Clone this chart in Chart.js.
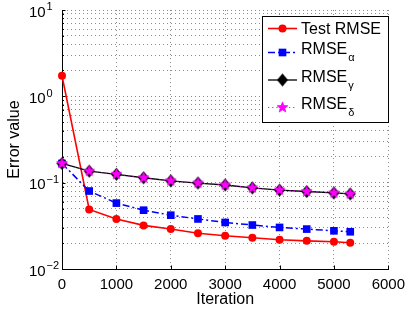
<!DOCTYPE html>
<html>
<head>
<meta charset="utf-8">
<script src="https://cdn.jsdelivr.net/npm/chart.js@4/dist/chart.umd.min.js"></script>
<style>
html,body{margin:0;padding:0;background:#fff;}
#wrap{width:412px;height:313px;}
</style>
</head>
<body>
<div id="wrap"><canvas id="c" width="412" height="313"></canvas></div>
<script>
// ---- data ----
const iterations = [0, 500, 1000, 1500, 2000, 2500, 3000, 3500, 4000, 4500, 5000, 5300];
const testRMSE  = [1.73, 0.049, 0.038, 0.032, 0.029, 0.026, 0.0243, 0.023, 0.0218, 0.0212, 0.0207, 0.0201];
const rmseAlpha = [0.167, 0.080, 0.058, 0.048, 0.042, 0.038, 0.0346, 0.0323, 0.0303, 0.029, 0.0277, 0.027];
const rmseGamma = [0.167, 0.136, 0.125, 0.114, 0.105, 0.099, 0.094, 0.087, 0.082, 0.079, 0.076, 0.074];
const rmseDelta = [0.167, 0.136, 0.125, 0.114, 0.105, 0.099, 0.094, 0.087, 0.082, 0.079, 0.076, 0.074];

const xTickLabels = ['0', '1000', '2000', '3000', '4000', '5000', '6000'];
const yDecades = [0.01, 0.1, 1, 10];
const yExponents = ['\u22122', '\u22121', '0', '1'];
const legendLabels = [
  {main: 'Test RMSE', sub: ''},
  {main: 'RMSE', sub: '\u03b1'},
  {main: 'RMSE', sub: '\u03b3'},
  {main: 'RMSE', sub: '\u03b4'}
];
const xAxisTitle = 'Iteration';
const yAxisTitle = 'Error value';

const FONT = '"Liberation Sans", Arial, Helvetica, sans-serif';

// ---- marker images ----
function makeStar(r, fill) {
  const s = Math.ceil(2 * r + 3);
  const c = document.createElement('canvas');
  c.width = s; c.height = s;
  const g = c.getContext('2d');
  g.translate(s / 2, s / 2);
  g.beginPath();
  for (let i = 0; i < 10; i++) {
    const a = -Math.PI / 2 + i * Math.PI / 5;
    const rr = (i % 2) ? r * 0.42 : r;
    const px = Math.cos(a) * rr, py = Math.sin(a) * rr;
    if (i === 0) g.moveTo(px, py); else g.lineTo(px, py);
  }
  g.closePath();
  g.fillStyle = fill; g.fill();
  g.lineWidth = 0.8; g.strokeStyle = fill; g.stroke();
  return c;
}
function makeDiamond(w, h, fill) {
  const c = document.createElement('canvas');
  c.width = w + 2; c.height = h + 2;
  const g = c.getContext('2d');
  g.beginPath();
  g.moveTo(1 + w / 2, 1); g.lineTo(1 + w, 1 + h / 2); g.lineTo(1 + w / 2, 1 + h); g.lineTo(1, 1 + h / 2);
  g.closePath();
  g.fillStyle = fill; g.fill();
  return c;
}
const starImg = makeStar(5.6, '#ff00ff');
const diamondImg = makeDiamond(11, 13, '#000000');

function pts(arr) { return iterations.map((x, i) => ({x: x, y: arr[i]})); }

const datasets = [
  {label: 'Test RMSE', data: pts(testRMSE), borderColor: '#ff0000', backgroundColor: '#ff0000',
   borderWidth: 1.6, pointStyle: 'circle', pointRadius: 4, pointBorderWidth: 0, order: 4, dash: []},
  {label: 'RMSE alpha', data: pts(rmseAlpha), borderColor: '#0000ff', backgroundColor: '#0000ff',
   borderWidth: 1.5, borderDash: [7, 3, 2, 3], pointStyle: 'rect', pointRadius: 5.4, pointBorderWidth: 0, order: 3, dash: [7, 3, 2, 3]},
  {label: 'RMSE gamma', data: pts(rmseGamma), borderColor: '#000000', backgroundColor: '#000000',
   borderWidth: 1.3, pointStyle: diamondImg, order: 2, dash: []},
  {label: 'RMSE delta', data: pts(rmseDelta), borderColor: '#ff00ff', backgroundColor: '#ff00ff',
   borderWidth: 0.9, borderDash: [1, 3.5], pointStyle: starImg, order: 1, dash: [1.2, 3]}
];
datasets.forEach(d => { d.clip = false; d.tension = 0; d.fill = false; d.pointHoverRadius = d.pointRadius; });

const CHART_LEFT = 62, CHART_RIGHT = 393, CHART_TOP = 10, CHART_BOTTOM = 269;

const decorPlugin = {
  id: 'decor',
  afterDraw(chart) {
    const ctx = chart.ctx;
    const xs = chart.scales.x, ys = chart.scales.y;
    const area = chart.chartArea;
    ctx.save();
    // inward tick marks
    ctx.strokeStyle = '#000'; ctx.lineWidth = 1; ctx.setLineDash([]);
    ctx.beginPath();
    xTickLabels.forEach(t => {
      const px = Math.round(xs.getPixelForValue(Number(t))) + 0.5;
      ctx.moveTo(px, area.bottom); ctx.lineTo(px, area.bottom - 3.5);
    });
    ys.ticks.forEach(t => {
      const py = Math.round(ys.getPixelForValue(t.value)) + 0.5;
      const isDec = yDecades.some(d => Math.abs(d - t.value) / d < 1e-6);
      ctx.moveTo(area.left, py); ctx.lineTo(area.left + (isDec ? 3.5 : 2), py);
    });
    ctx.stroke();

    // y tick labels with superscript exponents
    ctx.fillStyle = '#000';
    yDecades.forEach((v, i) => {
      const py = ys.getPixelForValue(v);
      ctx.font = '15px ' + FONT;
      ctx.textAlign = 'right'; ctx.textBaseline = 'alphabetic';
      ctx.fillText('10', 45.7, py + 6.8);
      ctx.font = '11px ' + FONT;
      ctx.textAlign = 'left';
      ctx.fillText(yExponents[i], 46.5, py + 0.3);
    });

    // legend
    const L = 262.5, T = 16.5, R = 388.5, B = 122.5;
    ctx.fillStyle = '#fff';
    ctx.fillRect(L, T, R - L, B - T);
    ctx.strokeStyle = '#000'; ctx.lineWidth = 1;
    ctx.strokeRect(L, T, R - L, B - T);
    const rowsY = [28.5, 52.5, 80, 107.5];
    datasets.forEach((d, i) => {
      const y = rowsY[i];
      ctx.save();
      ctx.strokeStyle = d.borderColor; ctx.lineWidth = Math.max(d.borderWidth, 1.2);
      ctx.setLineDash(d.dash);
      ctx.beginPath(); ctx.moveTo(268, y); ctx.lineTo(297, y); ctx.stroke();
      ctx.restore();
      const mx = 282.5;
      ctx.fillStyle = d.backgroundColor;
      if (d.pointStyle === 'circle') {
        ctx.beginPath(); ctx.arc(mx, y, d.pointRadius, 0, Math.PI * 2); ctx.fill();
      } else if (d.pointStyle === 'rect') {
        const s = d.pointRadius * Math.SQRT1_2;
        ctx.fillRect(mx - s, y - s, 2 * s, 2 * s);
      } else {
        const img = d.pointStyle;
        ctx.drawImage(img, mx - img.width / 2, y - img.height / 2);
      }
      const lab = legendLabels[i];
      ctx.fillStyle = '#000';
      ctx.textAlign = 'left'; ctx.textBaseline = 'alphabetic';
      ctx.font = '16px ' + FONT;
      if (!lab.sub) {
        ctx.fillText(lab.main, 301, y + 5.8);
      } else {
        const by = y + 1.8;
        ctx.fillText(lab.main, 301, by);
        const w = ctx.measureText(lab.main).width;
        ctx.font = '11px ' + FONT;
        ctx.fillText(lab.sub, 301 + w + 1, by + 7);
      }
    });
    ctx.restore();
  }
};

new Chart(document.getElementById('c'), {
  type: 'line',
  data: {datasets: datasets},
  options: {
    responsive: false,
    animation: false,
    events: [],
    layout: {padding: {left: 0, right: 412 - CHART_RIGHT, top: CHART_TOP, bottom: 0}},
    plugins: {legend: {display: false}, tooltip: {enabled: false}, title: {display: false}},
    scales: {
      x: {
        type: 'linear', min: 0, max: 6000,
        afterBuildTicks: (s) => { s.ticks = xTickLabels.map(t => ({value: Number(t)})); },
        afterFit: (s) => { s.height = 313 - CHART_BOTTOM; },
        ticks: {
          color: '#000', padding: 7, maxRotation: 0, autoSkip: false,
          font: {family: FONT, size: 15},
          callback: (v) => { const t = xTickLabels.find(l => Number(l) === v); return t === undefined ? '' : t; }
        },
        grid: {color: '#8a8a8a', lineWidth: 1, drawTicks: false},
        border: {display: true, color: '#000', width: 1, dash: [1, 3]},
        title: {display: true, text: xAxisTitle, color: '#000', font: {family: FONT, size: 16}, padding: {top: 0, bottom: 4}}
      },
      y: {
        type: 'logarithmic', min: 0.01, max: 10,
        afterBuildTicks: (s) => {
          const t = [];
          for (let i = 0; i < yDecades.length - 1; i++) {
            for (let k = 1; k < 10; k++) t.push({value: yDecades[i] * k});
          }
          t.push({value: yDecades[yDecades.length - 1]});
          s.ticks = t;
        },
        afterFit: (s) => { s.width = CHART_LEFT; },
        ticks: {display: false},
        grid: {color: '#8a8a8a', lineWidth: 1, drawTicks: false},
        border: {display: true, color: '#000', width: 1, dash: [1, 3]},
        title: {display: true, text: yAxisTitle, color: '#000', font: {family: FONT, size: 16}, padding: {top: 5, bottom: 0}}
      }
    }
  },
  plugins: [decorPlugin]
});
</script>
</body>
</html>
